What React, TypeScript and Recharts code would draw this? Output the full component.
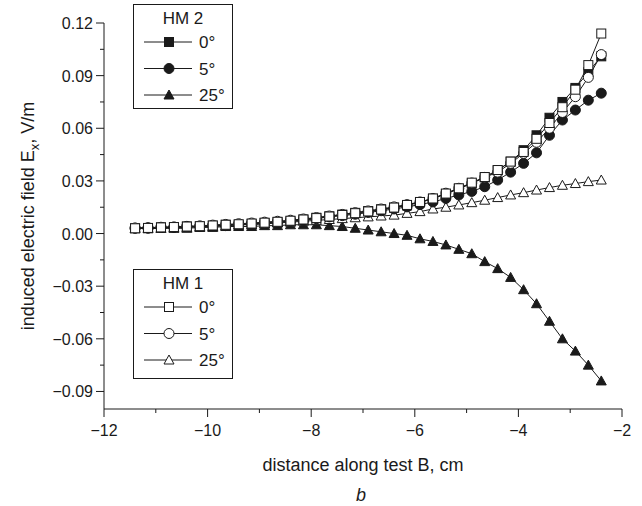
import React from 'react'
import { LineChart, Line, XAxis, YAxis } from 'recharts'

// distance along test B (cm)
const distance = [
  -11.4, -11.15, -10.9, -10.65, -10.4, -10.15, -9.9, -9.65, -9.4, -9.15,
  -8.9, -8.65, -8.4, -8.15, -7.9, -7.65, -7.4, -7.15, -6.9, -6.65,
  -6.4, -6.15, -5.9, -5.65, -5.4, -5.15, -4.9, -4.65, -4.4, -4.15,
  -3.9, -3.65, -3.4, -3.15, -2.9, -2.65, -2.4,
]

const hm2Deg0 = [
  0.003, 0.003, 0.0035, 0.0035, 0.004, 0.004, 0.0045, 0.005, 0.005, 0.0055,
  0.006, 0.0065, 0.007, 0.008, 0.009, 0.0098, 0.0108, 0.0118, 0.0128, 0.0138,
  0.0148, 0.016, 0.0178, 0.0198, 0.0225, 0.0255, 0.0285, 0.032, 0.036, 0.041,
  0.0475, 0.056, 0.066, 0.075, 0.083, 0.092, 0.101,
]
const hm2Deg5 = [
  0.003, 0.003, 0.0035, 0.0035, 0.004, 0.004, 0.0045, 0.0045, 0.005, 0.0055,
  0.006, 0.0065, 0.007, 0.0075, 0.0085, 0.0095, 0.0102, 0.011, 0.012, 0.013,
  0.014, 0.0152, 0.0165, 0.018, 0.02, 0.022, 0.024, 0.0267, 0.0305, 0.035,
  0.04, 0.046, 0.056, 0.0647, 0.0704, 0.076, 0.08,
]
const hm2Deg25 = [
  0.003, 0.003, 0.003, 0.003, 0.003, 0.0035, 0.0035, 0.004, 0.004, 0.004,
  0.0045, 0.0045, 0.005, 0.005, 0.005, 0.0045, 0.004, 0.003, 0.002, 0.001,
  0.0, -0.001, -0.003, -0.0045, -0.0065, -0.009, -0.0115, -0.016, -0.02, -0.025,
  -0.032, -0.04, -0.05, -0.06, -0.067, -0.075, -0.084,
]
const hm1Deg0 = [
  0.003, 0.0032, 0.0035, 0.0037, 0.004, 0.0042, 0.0046, 0.005, 0.0053, 0.0057,
  0.0062, 0.0067, 0.0073, 0.008, 0.0088, 0.0097, 0.0106, 0.0116, 0.0126, 0.0137,
  0.0148, 0.0163, 0.018, 0.02, 0.0228, 0.0258, 0.029, 0.0322, 0.0362, 0.041,
  0.0465, 0.054, 0.063, 0.072, 0.082, 0.096, 0.114,
]
const hm1Deg5 = [
  0.0032, 0.0034, 0.0036, 0.0038, 0.0041, 0.0044, 0.0048, 0.0052, 0.0056, 0.006,
  0.0065, 0.007, 0.0076, 0.0083, 0.0091, 0.01, 0.0109, 0.0119, 0.0129, 0.014,
  0.0152, 0.0165, 0.018, 0.02, 0.023, 0.0258, 0.0288, 0.032, 0.035, 0.04,
  0.0457, 0.052, 0.06, 0.069, 0.078, 0.089, 0.102,
]
const hm1Deg25 = [
  0.003, 0.003, 0.003, 0.0035, 0.0035, 0.004, 0.004, 0.0045, 0.005, 0.005,
  0.0055, 0.006, 0.0065, 0.007, 0.0075, 0.008, 0.0085, 0.009, 0.0095, 0.01,
  0.0105, 0.0115, 0.0125, 0.014, 0.015, 0.0163, 0.0176, 0.019, 0.0205, 0.022,
  0.0233, 0.0248, 0.0262, 0.0275, 0.0285, 0.0296, 0.0305,
]

const xTicks = [-12, -11, -10, -9, -8, -7, -6, -5, -4, -3, -2]
const yTicks = [
  -0.09, -0.075, -0.06, -0.045, -0.03, -0.015, 0, 0.015, 0.03, 0.045, 0.06,
  0.075, 0.09, 0.105, 0.12,
]

const INK = '#1a1a1a'
const FONT = '"Liberation Sans", Arial, Helvetica, sans-serif'

type Shape = 'square' | 'circle' | 'triangle'

function Marker({ shape, filled, cx, cy }: { shape: Shape; filled: boolean; cx: number; cy: number }) {
  const fill = filled ? INK : '#fff'
  if (shape === 'square') {
    return <rect x={cx - 4.5} y={cy - 4.5} width={9} height={9} fill={fill} stroke={INK} strokeWidth={1} />
  }
  if (shape === 'circle') {
    return <circle cx={cx} cy={cy} r={5} fill={fill} stroke={INK} strokeWidth={1} />
  }
  return (
    <polygon
      points={`${cx},${cy - 5} ${cx + 5},${cy + 4} ${cx - 5},${cy + 4}`}
      fill={fill}
      stroke={INK}
      strokeWidth={1}
    />
  )
}

const dotRenderer = (shape: Shape, filled: boolean) => (p: any) => (
  <Marker key={p.index} shape={shape} filled={filled} cx={p.cx} cy={p.cy} />
)

const fmtY = (v: number) => {
  const s = Math.abs(v).toFixed(2)
  return v < -1e-9 ? '\u2212' + s : s
}

function YTick(props: any) {
  const { x, y, payload } = props
  const v = payload.value as number
  const major = Math.abs(Math.round(v * 1000)) % 30 === 0
  return (
    <g>
      <line x1={x - (major ? 8 : 4)} x2={x} y1={y} y2={y} stroke={INK} />
      {major && (
        <text x={x - 11} y={y} dy={6} textAnchor="end" fontSize={16} fontFamily={FONT} fill={INK}>
          {fmtY(v)}
        </text>
      )}
    </g>
  )
}

function XTick(props: any) {
  const { x, y, payload } = props
  const v = payload.value as number
  const major = v % 2 === 0
  return (
    <g>
      <line x1={x} x2={x} y1={y} y2={y + (major ? 8 : 4)} stroke={INK} />
      {major && (
        <text x={x} y={y + 27} textAnchor="middle" fontSize={16} fontFamily={FONT} fill={INK}>
          {'\u2212' + Math.abs(v)}
        </text>
      )}
    </g>
  )
}

function LegendBox({ x, y, h, title, filled }: { x: number; y: number; h: number; title: string; filled: boolean }) {
  const rows: [Shape, string][] = [['square', '0°'], ['circle', '5°'], ['triangle', '25°']]
  return (
    <g fontFamily={FONT} fill={INK}>
      <rect x={x + 0.5} y={y + 0.5} width={99} height={h} fill="#fff" stroke={INK} />
      <text x={x + 50} y={y + 20} textAnchor="middle" fontSize={17}>{title}</text>
      {rows.map(([shape, label], i) => {
        const ry = y + 38 + i * 26.5
        return (
          <g key={label}>
            <line x1={x + 11} x2={x + 59} y1={ry} y2={ry} stroke={INK} />
            <Marker shape={shape} filled={filled} cx={x + 36} cy={ry} />
            <text x={x + 66} y={ry + 6} fontSize={17}>{label}</text>
          </g>
        )
      })}
    </g>
  )
}

export default function App() {
  const data = distance.map((d, i) => ({
    d,
    hm2Deg0: hm2Deg0[i],
    hm2Deg5: hm2Deg5[i],
    hm2Deg25: hm2Deg25[i],
    hm1Deg0: hm1Deg0[i],
    hm1Deg5: hm1Deg5[i],
    hm1Deg25: hm1Deg25[i],
  }))

  const series: [string, Shape, boolean][] = [
    ['hm2Deg25', 'triangle', true],
    ['hm1Deg25', 'triangle', false],
    ['hm2Deg5', 'circle', true],
    ['hm2Deg0', 'square', true],
    ['hm1Deg5', 'circle', false],
    ['hm1Deg0', 'square', false],
  ]

  return (
    <div style={{ position: 'absolute', left: 0, top: 0, width: 642, height: 506, background: '#fff' }}>
      <LineChart width={642} height={506} data={data} margin={{ top: 23, right: 20, bottom: 0, left: 0 }}>
        <XAxis
          type="number"
          dataKey="d"
          domain={[-12, -2]}
          ticks={xTicks}
          interval={0}
          height={97}
          tickSize={0}
          tickMargin={0}
          tickLine={false}
          stroke={INK}
          tick={<XTick />}
        />
        <YAxis
          type="number"
          domain={[-0.1, 0.12]}
          ticks={yTicks}
          interval={0}
          width={104}
          tickSize={0}
          tickMargin={0}
          tickLine={false}
          stroke={INK}
          tick={<YTick />}
        />
        {series.map(([key, shape, filled]) => (
          <Line
            key={key}
            dataKey={key}
            type="linear"
            stroke={INK}
            strokeWidth={1}
            dot={dotRenderer(shape, filled)}
            activeDot={false}
            isAnimationActive={false}
          />
        ))}
      </LineChart>

      <svg width={642} height={506} style={{ position: 'absolute', left: 0, top: 0, pointerEvents: 'none' }}>
        <LegendBox x={133} y={4} h={104} title="HM 2" filled />
        <LegendBox x={133} y={269} h={109} title="HM 1" filled={false} />
        <text
          transform="translate(34,216) rotate(-90)"
          textAnchor="middle"
          fontSize={18}
          fontFamily={FONT}
          fill={INK}
        >
          induced electric field E<tspan dy={5} fontSize={13}>x</tspan>
          <tspan dy={-5}>, V/m</tspan>
        </text>
        <text x={363} y={471} textAnchor="middle" fontSize={18} fontFamily={FONT} fill={INK}>
          distance along test B, cm
        </text>
        <text x={361} y={501} textAnchor="middle" fontSize={18} fontStyle="italic" fontFamily={FONT} fill={INK}>
          b
        </text>
      </svg>
    </div>
  )
}
